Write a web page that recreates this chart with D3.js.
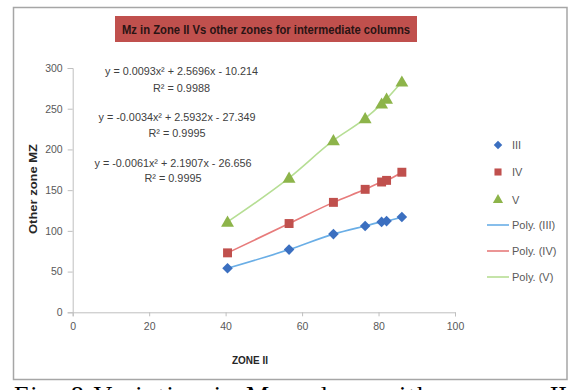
<!DOCTYPE html>
<html>
<head>
<meta charset="utf-8">
<script src="https://cdn.jsdelivr.net/npm/d3@7"></script>
<style>
  html, body { margin: 0; padding: 0; background: #fff; overflow: hidden; }
  svg { display: block; }
  .chart-text { font-family: 'Liberation Sans', Arial, sans-serif; }
</style>
</head>
<body>
<script>
/* global d3 */
(function () {
  'use strict'

  // Data
  var zoneII = [40.5, 56.6, 68.2, 76.5, 80.8, 82.1, 86.1]
  var zoneIII = [54, 77, 96, 106, 111, 112, 117]
  var zoneIV = [73, 109, 135, 151, 160, 162, 172]
  var zoneV = [111, 165, 211, 238, 256, 262, 283]

  var seriesNames = ['III', 'IV', 'V']
  var trendNames = ['Poly. (III)', 'Poly. (IV)', 'Poly. (V)']
  var equations = [
    'y = 0.0093x\u00b2 + 2.5696x - 10.214',
    'y = -0.0034x\u00b2 + 2.5932x - 27.349',
    'y = -0.0061x\u00b2 + 2.1907x - 26.656'
  ]
  var rSquared = ['R\u00b2 = 0.9988', 'R\u00b2 = 0.9995', 'R\u00b2 = 0.9995']
  var xTicks = [0, 20, 40, 60, 80, 100]
  var yTicks = [0, 50, 100, 150, 200, 250, 300]

  var title = 'Mz in Zone II Vs other zones for intermediate columns'

  // Dimensions
  var w = 572
  var h = 390

  // Plot area
  var left = 72.7
  var right = 455
  var top = 68
  var bottom = 312.3

  var markerColors = ['#3b6fc0', '#c0504d', '#8db44a']
  var lineColors = ['#6aaee6', '#e77b7b', '#b6de94']

  var svg = d3.select('body').append('svg')
    .attr('width', w)
    .attr('height', h)

  // Frame
  svg.append('rect')
    .attr('x', 13.5)
    .attr('y', 7.5)
    .attr('width', 553.5)
    .attr('height', 372)
    .attr('fill', '#fff')
    .attr('stroke', '#a6a6a6')
    .attr('stroke-width', 1.5)

  // Title box
  svg.append('rect')
    .attr('x', 115)
    .attr('y', 16)
    .attr('width', 302)
    .attr('height', 26)
    .attr('fill', '#c0504d')
  svg.append('text')
    .attr('class', 'chart-text')
    .attr('x', 266)
    .attr('y', 33.5)
    .attr('text-anchor', 'middle')
    .attr('font-size', 12.5)
    .attr('font-weight', 'bold')
    .attr('fill', '#2a1414')
    .attr('textLength', 288)
    .attr('lengthAdjust', 'spacingAndGlyphs')
    .text(title)

  // Scales
  var x = d3.scaleLinear().domain([0, 100]).range([left, right])
  var y = d3.scaleLinear().domain([0, 300]).range([bottom, top])

  // Axes
  var xAxis = svg.append('g')
    .attr('class', 'chart-text')
    .attr('transform', 'translate(0,' + bottom + ')')
    .call(d3.axisBottom(x).tickValues(xTicks).tickSize(4).tickSizeOuter(4).tickPadding(6))
  var yAxis = svg.append('g')
    .attr('class', 'chart-text')
    .attr('transform', 'translate(' + left + ',0)')
    .call(d3.axisLeft(y).tickValues(yTicks).tickSize(5).tickSizeOuter(5).tickPadding(5))

  ;[xAxis, yAxis].forEach(function (a) {
    a.select('.domain').attr('stroke', '#bfbfbf')
    a.selectAll('.tick line').attr('stroke', '#bfbfbf')
    a.selectAll('.tick text')
      .attr('fill', '#595959')
      .attr('font-size', 10.5)
      .attr('font-family', null)
  })

  // Axis titles
  svg.append('text')
    .attr('class', 'chart-text')
    .attr('transform', 'translate(37,189) rotate(-90)')
    .attr('text-anchor', 'middle')
    .attr('font-size', 10)
    .attr('font-weight', 'bold')
    .attr('fill', '#262626')
    .attr('textLength', 90)
    .attr('lengthAdjust', 'spacingAndGlyphs')
    .text('Other zone MZ')
  svg.append('text')
    .attr('class', 'chart-text')
    .attr('x', 250)
    .attr('y', 364)
    .attr('text-anchor', 'middle')
    .attr('font-size', 10)
    .attr('font-weight', 'bold')
    .attr('fill', '#262626')
    .attr('textLength', 36)
    .attr('lengthAdjust', 'spacingAndGlyphs')
    .text('ZONE II')

  // Build series
  var series = [zoneIII, zoneIV, zoneV].map(function (vals, k) {
    return {
      name: seriesNames[k],
      points: vals.map(function (v, i) { return { x: zoneII[i], y: v } })
    }
  })

  var line = d3.line()
    .x(function (d) { return x(d.x) })
    .y(function (d) { return y(d.y) })
    .curve(d3.curveMonotoneX)

  // Trend lines
  svg.selectAll('path.trend')
    .data(series)
    .enter().append('path')
      .attr('class', 'trend')
      .attr('d', function (d) { return line(d.points) })
      .attr('fill', 'none')
      .attr('stroke', function (d, i) { return lineColors[i] })
      .attr('stroke-width', 1.6)

  // Diamond = square turned by 45 degrees
  var symbols = [
    d3.symbol().type(d3.symbolSquare).size(56),
    d3.symbol().type(d3.symbolSquare).size(80),
    d3.symbol().type(d3.symbolTriangle).size(72)
  ]
  var rotations = [45, 0, 0]

  // Markers
  series.forEach(function (s, k) {
    svg.append('g').selectAll('path')
      .data(s.points)
      .enter().append('path')
        .attr('transform', function (d) {
          return 'translate(' + x(d.x) + ',' + (y(d.y) + (k === 2 ? 1 : 0)) + ') rotate(' + rotations[k] + ')'
        })
        .attr('d', symbols[k])
        .attr('fill', markerColors[k])
  })

  // Equation labels
  var eqPos = [[181.5, 74.5, 91.5], [177, 120.5, 137], [173, 166.5, 182]]
  var eqWidths = [153, 157, 157]
  equations.forEach(function (eq, i) {
    svg.append('text')
      .attr('class', 'chart-text')
      .attr('x', eqPos[i][0])
      .attr('y', eqPos[i][1])
      .attr('text-anchor', 'middle')
      .attr('font-size', 11)
      .attr('fill', '#404040')
      .attr('textLength', eqWidths[i])
      .attr('lengthAdjust', 'spacingAndGlyphs')
      .text(eq)
    svg.append('text')
      .attr('class', 'chart-text')
      .attr('x', eqPos[i][0])
      .attr('y', eqPos[i][2])
      .attr('text-anchor', 'middle')
      .attr('font-size', 11)
      .attr('fill', '#404040')
      .attr('textLength', 57)
      .attr('lengthAdjust', 'spacingAndGlyphs')
      .text(rSquared[i])
  })

  // Legend
  var legend = svg.append('g')
  var legendSymbols = [
    d3.symbol().type(d3.symbolSquare).size(36),
    d3.symbol().type(d3.symbolSquare).size(50),
    d3.symbol().type(d3.symbolTriangle).size(45)
  ]
  var markerRows = [145, 172, 200]
  var lineRows = [225, 251, 277]
  seriesNames.forEach(function (n, i) {
    legend.append('path')
      .attr('transform', 'translate(498,' + markerRows[i] + ') rotate(' + rotations[i] + ')')
      .attr('d', legendSymbols[i])
      .attr('fill', markerColors[i])
    legend.append('text')
      .attr('class', 'chart-text')
      .attr('x', 512)
      .attr('y', markerRows[i] + 4)
      .attr('font-size', 11)
      .attr('fill', '#595959')
      .text(n)
  })
  trendNames.forEach(function (n, i) {
    legend.append('line')
      .attr('x1', 487)
      .attr('x2', 509)
      .attr('y1', lineRows[i])
      .attr('y2', lineRows[i])
      .attr('stroke', lineColors[i])
      .attr('stroke-width', 1.6)
    legend.append('text')
      .attr('class', 'chart-text')
      .attr('x', 512)
      .attr('y', lineRows[i] + 4)
      .attr('font-size', 11)
      .attr('fill', '#595959')
      .text(n)
  })

  // Figure caption, cut off by the window edge as in the source
  svg.append('text')
    .attr('x', 14)
    .attr('y', 404)
    .attr('font-family', "'Liberation Serif', 'Times New Roman', serif")
    .attr('font-size', 26)
    .attr('fill', '#000')
    .attr('textLength', 416)
    .attr('lengthAdjust', 'spacing')
    .text('Fig. 8 Variation in Mz values with')
  svg.append('text')
    .attr('x', 567)
    .attr('y', 404)
    .attr('text-anchor', 'end')
    .attr('font-family', "'Liberation Serif', 'Times New Roman', serif")
    .attr('font-size', 26)
    .attr('fill', '#000')
    .text('II')
}())
</script>
</body>
</html>
